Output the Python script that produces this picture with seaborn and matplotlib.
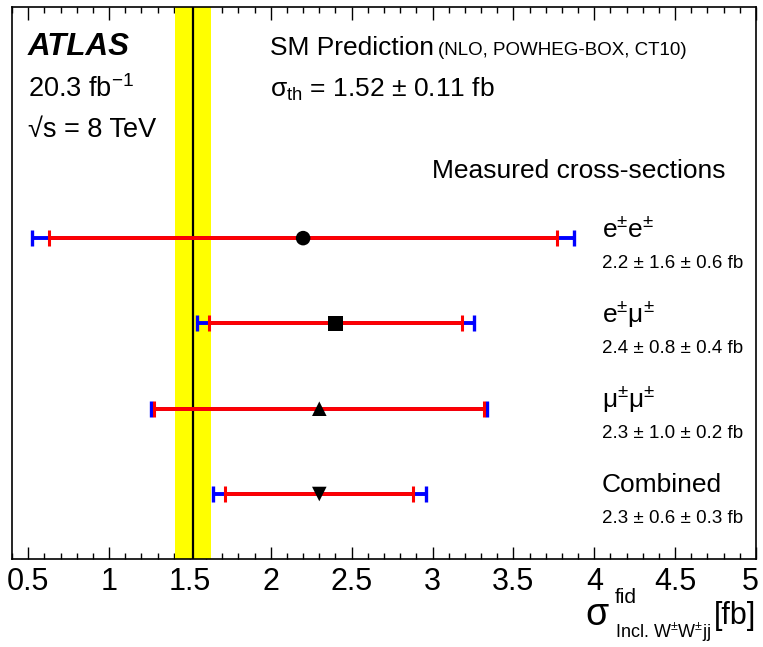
import numpy as np
import pandas as pd
import matplotlib
matplotlib.use("Agg")
import matplotlib.pyplot as plt
import matplotlib.transforms as mtransforms
import seaborn as sns

# ---- data ----
channels = ["ee", "emu", "mumu", "comb"]
channel_labels = ["e$^{\\pm}$e$^{\\pm}$", "e$^{\\pm}$μ$^{\\pm}$", "μ$^{\\pm}$μ$^{\\pm}$", "Combined"]
value_labels = ["2.2 ± 1.6 ± 0.6 fb", "2.4 ± 0.8 ± 0.4 fb", "2.3 ± 1.0 ± 0.2 fb", "2.3 ± 0.6 ± 0.3 fb"]
central = [2.2, 2.4, 2.3, 2.3]
stat_err = [1.57, 0.78, 1.02, 0.58]
syst_err = [0.58, 0.36, 0.20, 0.31]
rows = [4, 3, 2, 1]
marker_map = {"ee": "o", "emu": "s", "mumu": "^", "comb": "v"}
sm_pred = 1.52
sm_err = 0.11
xticks = [0.5, 1, 1.5, 2, 2.5, 3, 3.5, 4, 4.5, 5]
xticklabels = ["0.5", "1", "1.5", "2", "2.5", "3", "3.5", "4", "4.5", "5"]

total_err = [np.hypot(a, b) for a, b in zip(stat_err, syst_err)]
df = pd.DataFrame({"x": central, "y": rows, "channel": channels})

sns.set_style("ticks")
FAM = ["Liberation Sans", "DejaVu Sans"]
plt.rcParams["font.family"] = FAM
plt.rcParams["text.color"] = "black"
plt.rcParams["xtick.color"] = "black"
plt.rcParams["axes.labelcolor"] = "black"
plt.rcParams["mathtext.fontset"] = "custom"
plt.rcParams["mathtext.rm"] = "Liberation Sans"
plt.rcParams["mathtext.it"] = "Liberation Sans:italic"
plt.rcParams["mathtext.bf"] = "Liberation Sans:bold"
plt.rcParams["mathtext.default"] = "regular"

W, H = 763, 647
fig = plt.figure(figsize=(W / 100, H / 100), dpi=100)
L, R, T, B = 12, 756, 7, 559
ax = fig.add_axes([L / W, 1 - B / H, (R - L) / W, (B - T) / H])

ax.axvspan(sm_pred - sm_err, sm_pred + sm_err, color="#ffff00", lw=0, zorder=1)
ax.axvline(sm_pred, color="black", lw=1.6, zorder=2)

ax.errorbar(central, rows, xerr=total_err, fmt="none", ecolor="#0000ff",
            elinewidth=2.8, capsize=5.8, capthick=2.4, zorder=3)
ax.errorbar(central, rows, xerr=stat_err, fmt="none", ecolor="#ff0000",
            elinewidth=2.8, capsize=5.8, capthick=2.2, zorder=4)

sns.scatterplot(data=df, x="x", y="y", style="channel", markers=marker_map,
                color="black", s=110, edgecolor="black", linewidth=0,
                legend=False, ax=ax, zorder=5)

ax.set_xlim(0.4, 5.0)
ax.set_ylim(0.238, 6.71)
ax.set_yticks([])
ax.set_xticks(xticks)
ax.set_xticklabels(xticklabels)
ax.set_xticks(np.arange(0.4, 5.001, 0.1), minor=True)
ax.tick_params(axis="x", which="major", direction="in", length=9, width=1,
               top=True, bottom=True, labelsize=22, pad=6, colors="black")
ax.tick_params(axis="x", which="minor", direction="in", length=4.5, width=1,
               top=True, bottom=True, colors="black")
ax.set_xlabel("")
ax.set_ylabel("")
for s in ax.spines.values():
    s.set_linewidth(1.2)
    s.set_color("black")
last = ax.get_xticklabels()[-1]
last.set_transform(last.get_transform() + mtransforms.ScaledTranslation(-6 / 100, 0, fig.dpi_scale_trans))

def ftext(x, y, s, **kw):
    kw.setdefault("va", "baseline")
    kw.setdefault("color", "black")
    return fig.text(x / W, 1 - y / H, s, **kw)

ftext(28, 55, "ATLAS", fontsize=22.5, fontweight="bold", style="italic")
ftext(28, 97, "20.3 fb$^{-1}$", fontsize=19.5)
ftext(28, 137, "√s = 8 TeV", fontsize=19.5)
ftext(270, 55, "SM Prediction", fontsize=19)
ftext(438, 55, "(NLO, POWHEG-BOX, CT10)", fontsize=13.5)
ftext(270, 97, "σ$_{\\rm th}$ = 1.52 ± 0.11 fb", fontsize=19)
ftext(725, 178, "Measured cross-sections", fontsize=19, ha="right")

name_base = [237, 322, 407, 492]
val_base = [268, 353, 438, 523]
for lab, val, yb, yv in zip(channel_labels, value_labels, name_base, val_base):
    ftext(602, yb, lab, fontsize=19)
    ftext(602, yv, val, fontsize=13.5)

# x-axis title
ftext(585, 625, "σ", fontsize=27)
ftext(615, 603, "fid", fontsize=15)
ftext(615, 638, "Incl. W$^{\\pm}$W$^{\\pm}$jj", fontsize=13)
ftext(756, 624, "[fb]", fontsize=22, ha="right")

fig.savefig("out.png", dpi=100)
